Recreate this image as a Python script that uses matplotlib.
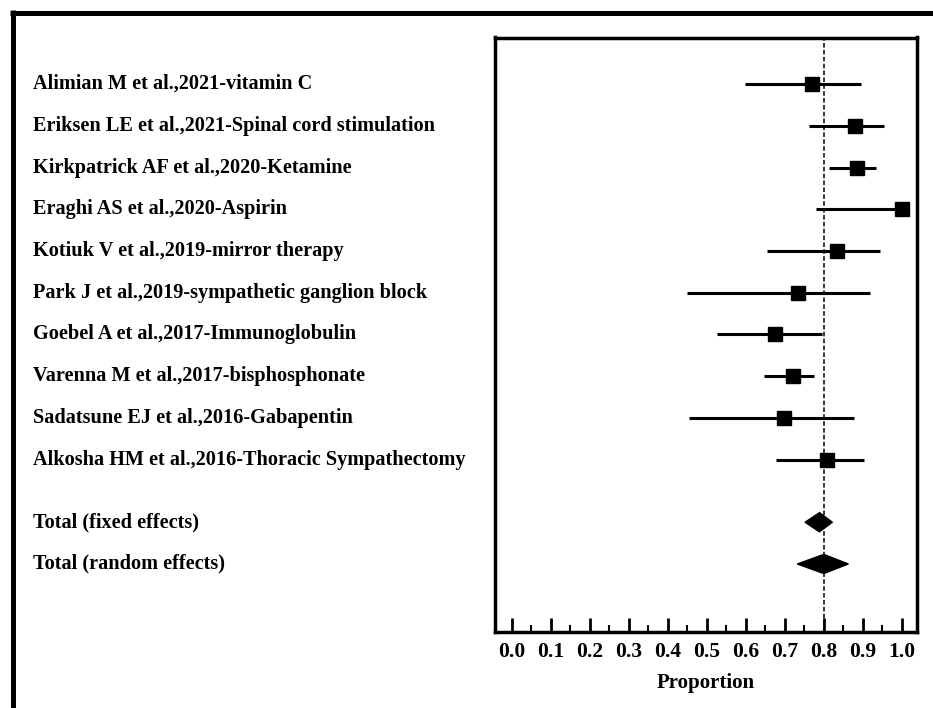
import matplotlib.pyplot as plt
from matplotlib.lines import Line2D
from matplotlib.transforms import blended_transform_factory

# study labels and estimates (proportion with 95% CI)
studies = [
    'Alimian M et al.,2021-vitamin C',
    'Eriksen LE et al.,2021-Spinal cord stimulation',
    'Kirkpatrick AF et al.,2020-Ketamine',
    'Eraghi AS et al.,2020-Aspirin',
    'Kotiuk V et al.,2019-mirror therapy',
    'Park J et al.,2019-sympathetic ganglion block',
    'Goebel A et al.,2017-Immunoglobulin',
    'Varenna M et al.,2017-bisphosphonate',
    'Sadatsune EJ et al.,2016-Gabapentin',
    'Alkosha HM et al.,2016-Thoracic Sympathectomy',
]
prop = [0.771, 0.881, 0.885, 1.000, 0.834, 0.735, 0.676, 0.720, 0.699, 0.809]
lower = [0.598, 0.761, 0.813, 0.781, 0.654, 0.449, 0.527, 0.646, 0.455, 0.678]
upper = [0.896, 0.955, 0.934, 1.000, 0.943, 0.919, 0.796, 0.776, 0.878, 0.903]

totals = ['Total (fixed effects)', 'Total (random effects)']
total_prop = [0.789, 0.800]
total_lower = [0.752, 0.732]
total_upper = [0.822, 0.863]

ticks = [0.0, 0.1, 0.2, 0.3, 0.4, 0.5, 0.6, 0.7, 0.8, 0.9, 1.0]

plt.rcParams['font.family'] = ['Liberation Serif', 'DejaVu Serif']
plt.rcParams['font.weight'] = 'bold'

fig = plt.figure(figsize=(9.33, 7.08), dpi=100)
ax = fig.add_axes([495 / 933, 1 - 632 / 708, 422 / 933, 594.5 / 708])

rows = list(range(1, len(studies) + 1))
total_rows = [11.5, 12.5]

# confidence intervals and point estimates
for y, lo, hi in zip(rows, lower, upper):
    ax.plot([lo, hi], [y, y], color='black', lw=2.2, solid_capstyle='butt', zorder=3)
ax.plot(prop, rows, 's', color='black', ms=10, zorder=4)

# pooled diamonds
h = 0.23
for y, p, lo, hi in zip(total_rows, total_prop, total_lower, total_upper):
    ax.fill([lo, p, hi, p], [y, y - h, y, y + h], color='black', zorder=4)

# reference line at overall estimate
ax.axvline(0.8, color='black', lw=1.1, ls=(0, (3, 1.5)), zorder=2)

ax.set_xlim(-0.043, 1.039)
ax.set_ylim(14.13, -0.116)
ax.set_yticks([])
ax.set_xticks(ticks)
ax.set_xticklabels(['%.1f' % t for t in ticks], fontsize=15.5, fontweight='bold')
ax.set_xticks([t + 0.05 for t in ticks[:-1]], minor=True)
ax.tick_params(axis='x', which='major', direction='in', length=10, width=2, pad=7)
ax.tick_params(axis='x', which='minor', direction='in', length=5, width=1.5)
ax.set_xlabel('Proportion', fontsize=15, fontweight='bold', labelpad=8)
for s in ax.spines.values():
    s.set_linewidth(2.5)

# study labels on the left
trans = blended_transform_factory(fig.transFigure, ax.transData)
for y, name in zip(rows + total_rows, studies + totals):
    ax.text(33 / 933, y, name, transform=trans, ha='left', va='center',
            fontsize=14.6, fontweight='bold', clip_on=False)

# outer frame lines (top and left)
fig.add_artist(Line2D([10 / 933, 1], [1 - 12.5 / 708] * 2, transform=fig.transFigure,
                      color='black', lw=3.6, solid_capstyle='butt'))
fig.add_artist(Line2D([12.5 / 933] * 2, [0, 1 - 10 / 708], transform=fig.transFigure,
                      color='black', lw=3.6, solid_capstyle='butt'))

fig.savefig('out.png', dpi=100)
